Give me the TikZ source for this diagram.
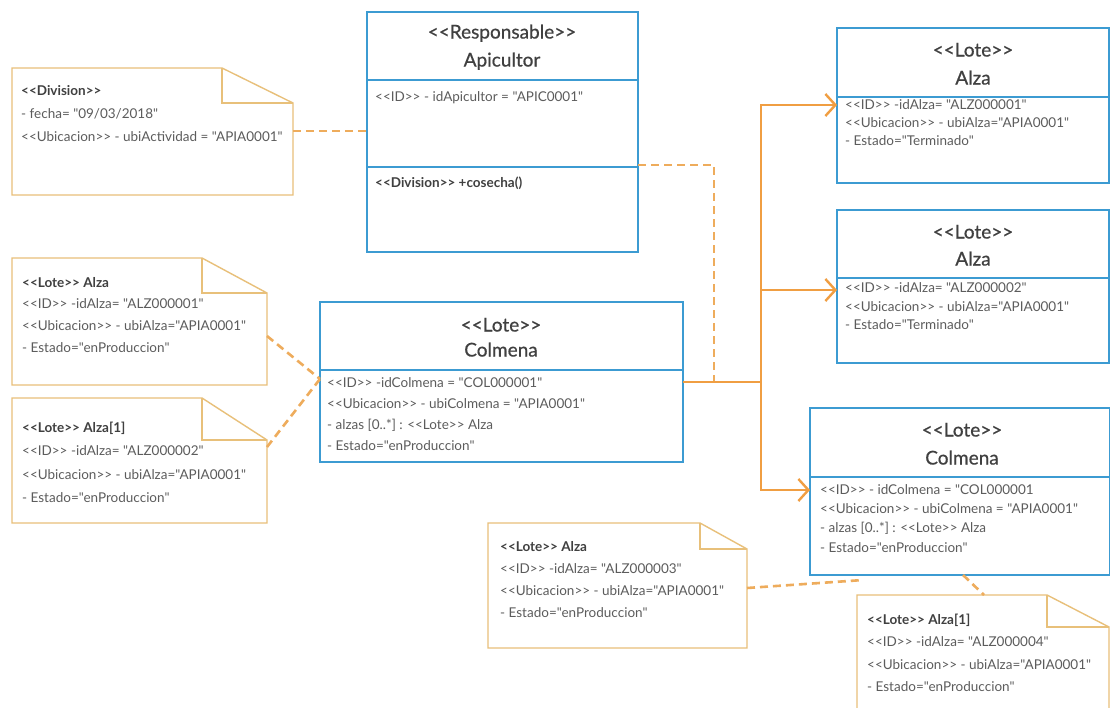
\documentclass[tikz,border=0pt]{standalone}
\usepackage{fontspec}
\setmainfont{Lato}[Ligatures=TeXOff]
\newfontfamily\medfont{Lato}[Ligatures=TeXOff,FakeBold=0.6]
\usetikzlibrary{arrows.meta,calc}
\definecolor{cblue}{RGB}{60,155,210}
\definecolor{cnote}{RGB}{232,192,122}
\definecolor{corange}{RGB}{240,158,66}
\definecolor{cdash}{RGB}{238,172,92}
\definecolor{ctext}{RGB}{92,92,92}
\definecolor{chead}{RGB}{64,64,64}
\newcommand\dognote[3]{%
  \draw[notel] (#1.south west) -- (#1.north west) -- ([xshift=-#2pt]#1.north east) -- ([yshift=-#3pt]#1.north east) -- (#1.south east) -- cycle;
  \draw[notel] ([xshift=-#2pt]#1.north east) |- ([yshift=-#3pt]#1.north east);
}
\tikzset{
  classbox/.style={draw=cblue, line width=2.6pt, inner sep=0pt, outer sep=0pt, anchor=north west},
  noterect/.style={inner sep=0pt, outer sep=0pt, anchor=north west},
  notel/.style={draw=cnote, line width=1.4pt, line join=miter},
  divline/.style={draw=cblue, line width=2.6pt},
  attr/.style={font=\fontsize{13.5}{16}\selectfont, text=ctext, anchor=base west, inner sep=0pt},
  battr/.style={font=\fontsize{13.5}{16}\selectfont\bfseries, text=chead, anchor=base west, inner sep=0pt},
  ttl/.style={font=\medfont\fontsize{19}{22}\selectfont, text=chead, anchor=base, inner sep=0pt},
  dep/.style={draw=cdash, line width=2.6pt, dash pattern=on 8pt off 5pt},
  assoc/.style={draw=corange, line width=2.4pt},
  tip/.style={-{Straight Barb[length=10pt,width=22pt]}}
}
\begin{document}
\begin{tikzpicture}[x=1pt,y=-1pt]
\useasboundingbox (0,0) rectangle (1110,707);
\fill[white] (0,0) rectangle (1110,707);

% ---------- class boxes ----------
\node[classbox, minimum width=271pt, minimum height=240pt] (apic) at (367,12) {};
\draw[divline] (apic.west |- 0,80) -- (apic.east |- 0,80);
\draw[divline] (apic.west |- 0,167) -- (apic.east |- 0,167);
\node[ttl] (apicT1) at (502,38.5) {<<Responsable>>};
\node[ttl] (apicT2) at (502,66.5) {Apicultor};
\node[attr] (apicA1) at (375,101.5) {<<ID>> - idApicultor = "APIC0001"};
\node[battr] (apicO1) at (375,187.5) {<<Division>> +cosecha()};

\node[classbox, minimum width=272pt, minimum height=155pt] (alza1) at (837,28) {};
\draw[divline] (alza1.west |- 0,97) -- (alza1.east |- 0,97);
\node[ttl] (alza1T1) at (973,56.5) {<<Lote>>};
\node[ttl] (alza1T2) at (973,84.5) {Alza};
\node[attr] (alza1A1) at (845,109.5) {<<ID>> -idAlza= "ALZ000001"};
\node[attr] (alza1A2) at (845,127.5) {<<Ubicacion>> - ubiAlza="APIA0001"};
\node[attr] (alza1A3) at (845,145.5) {- Estado="Terminado"};

\node[classbox, minimum width=272pt, minimum height=153pt] (alza2) at (837,210) {};
\draw[divline] (alza2.west |- 0,278) -- (alza2.east |- 0,278);
\node[ttl] (alza2T1) at (973,238.5) {<<Lote>>};
\node[ttl] (alza2T2) at (973,265.5) {Alza};
\node[attr] (alza2A1) at (845,292.5) {<<ID>> -idAlza= "ALZ000002"};
\node[attr] (alza2A2) at (845,311) {<<Ubicacion>> - ubiAlza="APIA0001"};
\node[attr] (alza2A3) at (845,329.5) {- Estado="Terminado"};

\node[classbox, minimum width=363pt, minimum height=160pt] (colL) at (320,302) {};
\draw[divline] (colL.west |- 0,370) -- (colL.east |- 0,370);
\node[ttl] (colLT1) at (501,331.5) {<<Lote>>};
\node[ttl] (colLT2) at (501,356.5) {Colmena};
\node[attr] (colLA1) at (327,387.5) {<<ID>> -idColmena = "COL000001"};
\node[attr] (colLA2) at (327,408.5) {<<Ubicacion>> - ubiColmena = "APIA0001"};
\node[attr] (colLA3) at (327,429.5) {- alzas [0..*] : <<Lote>> Alza};
\node[attr] (colLA4) at (327,450.5) {- Estado="enProduccion"};

\node[classbox, minimum width=300pt, minimum height=167pt] (colR) at (810,408) {};
\draw[divline] (colR.west |- 0,477) -- (colR.east |- 0,477);
\node[ttl] (colRT1) at (962,436.5) {<<Lote>>};
\node[ttl] (colRT2) at (962,464.5) {Colmena};
\node[attr] (colRA1) at (820,494.5) {<<ID>> - idColmena = "COL000001};
\node[attr] (colRA2) at (820,513.5) {<<Ubicacion>> - ubiColmena = "APIA0001"};
\node[attr] (colRA3) at (820,532.5) {- alzas [0..*] : <<Lote>> Alza};
\node[attr] (colRA4) at (820,552) {- Estado="enProduccion"};

% ---------- notes ----------
\node[noterect, minimum width=281pt, minimum height=127pt] (nDiv) at (12,68) {};
\dognote{nDiv}{71}{35}
\node[battr] (nDivH) at (21,95.5) {<<Division>>};
\node[attr] (nDivA1) at (21,118.5) {- fecha= "09/03/2018"};
\node[attr] (nDivA2) at (21,141.5) {<<Ubicacion>> - ubiActividad = "APIA0001"};

\node[noterect, minimum width=255pt, minimum height=127pt] (nA1) at (12,258) {};
\dognote{nA1}{65}{35}
\node[battr] (nA1H) at (22,287.5) {<<Lote>> Alza};
\node[attr] (nA1A1) at (22,308.5) {<<ID>> -idAlza= "ALZ000001"};
\node[attr] (nA1A2) at (22,330.5) {<<Ubicacion>> - ubiAlza="APIA0001"};
\node[attr] (nA1A3) at (22,352.5) {- Estado="enProduccion"};

\node[noterect, minimum width=255pt, minimum height=125pt] (nA2) at (12,398) {};
\dognote{nA2}{65}{42}
\node[battr] (nA2H) at (22,432.5) {<<Lote>> Alza[1]};
\node[attr] (nA2A1) at (22,455.5) {<<ID>> -idAlza= "ALZ000002"};
\node[attr] (nA2A2) at (22,479.5) {<<Ubicacion>> - ubiAlza="APIA0001"};
\node[attr] (nA2A3) at (22,502.5) {- Estado="enProduccion"};

\node[noterect, minimum width=259pt, minimum height=125pt] (nA3) at (488,523) {};
\dognote{nA3}{47}{26}
\node[battr] (nA3H) at (500,551.5) {<<Lote>> Alza};
\node[attr] (nA3A1) at (500,573.5) {<<ID>> -idAlza= "ALZ000003"};
\node[attr] (nA3A2) at (500,595.5) {<<Ubicacion>> - ubiAlza="APIA0001"};
\node[attr] (nA3A3) at (500,617.5) {- Estado="enProduccion"};

\node[noterect, minimum width=252pt, minimum height=120pt] (nA4) at (857,595) {};
\dognote{nA4}{62}{32}
\node[battr] (nA4H) at (867,624.5) {<<Lote>> Alza[1]};
\node[attr] (nA4A1) at (867,646.5) {<<ID>> -idAlza= "ALZ000004"};
\node[attr] (nA4A2) at (867,669.5) {<<Ubicacion>> - ubiAlza="APIA0001"};
\node[attr] (nA4A3) at (867,691.5) {- Estado="enProduccion"};

% ---------- connectors ----------
\coordinate (j) at (761,382);
\coordinate (d) at (714,382);
\coordinate (c3) at (863,580);
\draw[dep] (nDiv.east |- 0,131) -- (apic.west |- 0,131);
\draw[dep] (nA1.east |- 0,336) -- (colL.west |- 0,379);
\draw[dep] (nA2.east |- 0,447) -- (colL.west |- 0,379);
\draw[dep] (nA3.east |- 0,588) -- (c3);
\draw[dep] (colR.south -| 963,0) -- (nA4.north -| 984,0);
\draw[dep] (apic.east |- 0,165) -| (d);
\draw[assoc] (colL.east |- j) -- (j);
\draw[assoc, tip] (j) |- (alza1.west |- 0,105);
\draw[assoc, tip] (j) |- (alza2.west |- 0,290);
\draw[assoc, tip] (j) |- (colR.west |- 0,490);
\end{tikzpicture}
\end{document}
